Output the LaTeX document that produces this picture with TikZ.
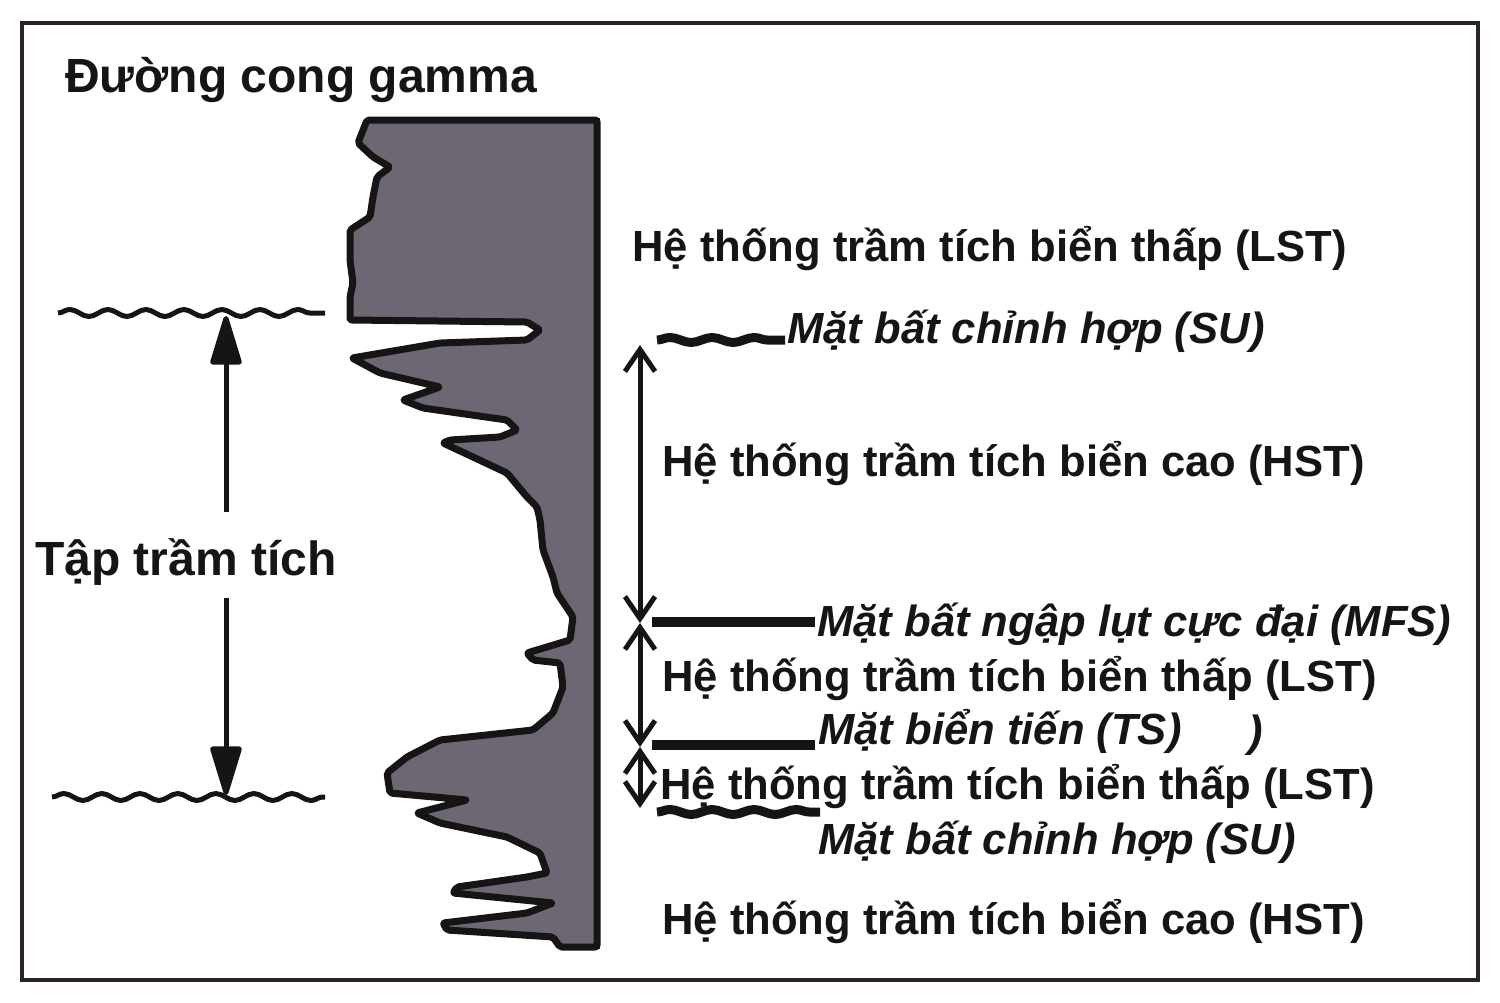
\documentclass[tikz,border=0pt]{standalone}
\usepackage{fontspec}
\setmainfont{Liberation Sans}
\usetikzlibrary{arrows.meta,decorations.pathmorphing}
\definecolor{ink}{RGB}{22,20,20}
\definecolor{gfill}{RGB}{108,103,114}
\definecolor{framec}{RGB}{45,35,35}
\begin{document}
\begin{tikzpicture}[x=1pt,y=-1pt,
  lbl/.style={anchor=base west, inner sep=0pt, text=ink, font=\fontsize{43.6}{50}\selectfont\bfseries},
  ital/.style={anchor=base west, inner sep=0pt, text=ink, font=\fontsize{43.6}{50}\selectfont\bfseries\itshape},
  biglbl/.style={anchor=base west, inner sep=0pt, text=ink, font=\fontsize{48}{56}\selectfont\bfseries},
  wave/.style={draw=ink, line width=5pt, decorate, decoration={snake, segment length=38pt, amplitude=3.5pt}},
  thickwave/.style={draw=ink, line width=9pt, decorate, decoration={snake, segment length=42pt, amplitude=2.5pt}},
  surf/.style={draw=ink, line width=10pt},
  leftarr/.style={draw=ink, line width=5pt, -{Triangle[length=55pt,width=32pt,round]}},
  rightarr/.style={draw=ink, line width=5pt, {Straight Barb[length=22pt,width=30pt,line width=5pt]}-{Straight Barb[length=22pt,width=30pt,line width=5pt]}}
]
\useasboundingbox (0,0) rectangle (1500,1002);
% frame
\draw[framec, line width=4.5pt] (22,23) rectangle (1478,980);

% gamma curve
\path[fill=gfill, draw=ink, line width=7pt, line join=round, rounded corners=2pt]
 (597,120) -- (367,120) -- (358,143) -- (373,157) -- (390,167) -- (377,177) -- (373,197)
 -- (370,217) -- (350,230) -- (350,260) -- (353,283) -- (350,297) -- (350,320)
 -- (527,322) -- (540,330) -- (527,340) -- (440,343) -- (352,358) -- (380,373)
 -- (440,387) -- (403,400) -- (423,408) -- (507,420) -- (517,430) -- (500,437)
 -- (450,440) -- (443,443) -- (473,457) -- (507,473) -- (527,497) -- (537,507)
 -- (540,520) -- (543,550) -- (553,577) -- (557,593) -- (573,617) -- (570,640)
 -- (527,653) -- (533,660) -- (560,663) -- (563,687) -- (553,713) -- (533,730)
 -- (440,740) -- (407,757) -- (387,773) -- (390,793) -- (467,800) -- (417,813)
 -- (440,823) -- (507,837) -- (540,853) -- (547,873) -- (527,877) -- (457,887)
 -- (453,893) -- (553,903) -- (527,913) -- (443,923) -- (447,930) -- (553,937)
 -- (560,947) -- (597,947) -- cycle;
\draw[ink, line width=6pt] (597,118) -- (597,949);

% title
\node[biglbl] (title) at (65,92) {Đường cong gamma};

% left sequence bounds
\coordinate (wl1a) at (58,313); \coordinate (wl1b) at (325,313);
\coordinate (wl2a) at (52,797); \coordinate (wl2b) at (325,797);
\draw[wave] (wl1a) -- (wl1b);
\draw[wave] (wl2a) -- (wl2b);
\node[biglbl] (tap) at (35,575) {Tập trầm tích};
\coordinate (lt) at (226,316);
\coordinate (lb) at (226,795);
\coordinate (ls1) at (226,512);
\coordinate (ls2) at (226,598);
\draw[leftarr] (ls1) -- (lt);
\draw[leftarr] (ls2) -- (lb);

% right labels
\node[lbl] (lst1) at (632,261) {Hệ thống trầm tích biển thấp (LST)};
\node[ital] (su1) at (787,343) {Mặt bất chỉnh hợp (SU)};
\node[lbl] (hst1) at (662,476) {Hệ thống trầm tích biển cao (HST)};
\node[ital] (mfs) at (817,636) {Mặt bất ngập lụt cực đại (MFS)};
\node[lbl] (lst2) at (662,691) {Hệ thống trầm tích biển thấp (LST)};
\node[ital] (ts) at (818,744) {Mặt biển tiến (TS)};
\node[ital] (stray) at (1248,746) {)};
\node[lbl] (lst3) at (660,799) {Hệ thống trầm tích biển thấp (LST)};
\node[ital] (su2) at (818,854) {Mặt bất chỉnh hợp (SU)};
\node[lbl] (hst2) at (662,934) {Hệ thống trầm tích biển cao (HST)};

% surfaces
\coordinate (su1a) at (657,340); \coordinate (su1b) at (785,340);
\draw[thickwave] (su1a) -- (su1b);
\coordinate (mfsa) at (652,622); \coordinate (mfsb) at (815,622);
\draw[surf] (mfsa) -- (mfsb);
\coordinate (tsa) at (652,745); \coordinate (tsb) at (815,745);
\draw[surf] (tsa) -- (tsb);
\coordinate (su2a) at (657,812); \coordinate (su2b) at (820,812);
\draw[thickwave] (su2a) -- (su2b);

% right arrows
\coordinate (r0) at (640,345);
\coordinate (r1) at (640,623);
\coordinate (r2) at (640,747);
\coordinate (r3) at (640,808);
\draw[rightarr] (r0) -- (r1);
\draw[rightarr] (r1) -- (r2);
\draw[rightarr] (r2) -- (r3);
\end{tikzpicture}
\end{document}
